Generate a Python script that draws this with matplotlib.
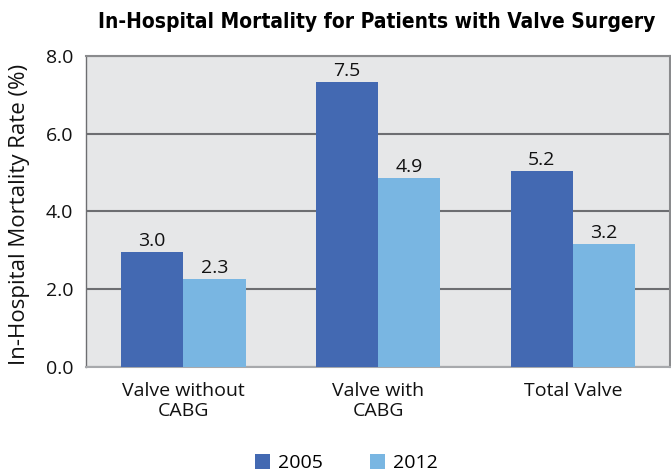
import matplotlib
matplotlib.use("Agg")
import matplotlib.pyplot as plt
from matplotlib import font_manager as fm
import numpy as np

categories = ["Valve without\nCABG", "Valve with\nCABG", "Total Valve"]
series_names = ["2005", "2012"]
values_2005 = [2.96, 7.33, 5.05]
values_2012 = [2.26, 4.87, 3.17]
labels_2005 = ["3.0", "7.5", "5.2"]
labels_2012 = ["2.3", "4.9", "3.2"]
yticks = [0.0, 2.0, 4.0, 6.0, 8.0]

c2005 = "#4369B2"
c2012 = "#79B6E2"

plt.rcParams['font.family'] = ['Open Sans', 'DejaVu Sans']

# pick a condensed bold font for the title if one is installed
title_fp = None
for fam in ['Liberation Sans Narrow', 'DejaVu Sans', 'Roboto', 'Open Sans', 'Noto Sans']:
    fp = fm.FontProperties(family=fam, weight='bold', stretch='condensed')
    try:
        path = fm.findfont(fp, fallback_to_default=False)
    except Exception:
        continue
    low = path.lower()
    if 'condensed' in low or 'narrow' in low or 'cond' in low:
        title_fp = fp
        break
if title_fp is None:
    title_fp = fm.FontProperties(family='Roboto', weight='bold')
    title_size = 14.0
else:
    title_size = 15.0
title_fp.set_size(title_size)

fig = plt.figure(figsize=(6.71, 4.74), dpi=100)
ax = fig.add_axes([0.128, 0.2257, 0.871, 0.6562])
ax.set_facecolor("#E6E7E8")

x = np.arange(len(categories))
w = 0.32
b1 = ax.bar(x - w/2, values_2005, w, color=c2005, label=series_names[0], zorder=3)
b2 = ax.bar(x + w/2, values_2012, w, color=c2012, label=series_names[1], zorder=3)

for rect, lab in zip(b1, labels_2005):
    ax.text(rect.get_x() + rect.get_width()/2, rect.get_height() + 0.05, lab,
            ha='center', va='bottom', fontsize=14, color='#111111')
for rect, lab in zip(b2, labels_2012):
    ax.text(rect.get_x() + rect.get_width()/2, rect.get_height() + 0.05, lab,
            ha='center', va='bottom', fontsize=14, color='#111111')

ax.set_xlim(-0.5, 2.5)
ax.set_ylim(0, 8)
ax.set_yticks(yticks)
ax.set_yticklabels([f"{v:.1f}" for v in yticks], fontsize=14)
ax.set_xticks(x)
ax.set_xticklabels(categories, fontsize=14, linespacing=1.1)
ax.tick_params(axis='both', length=0, colors='#111111')
ax.tick_params(axis='y', pad=9)
ax.tick_params(axis='x', pad=11)
ax.yaxis.grid(True, color="#6D6E71", linewidth=1.5, zorder=1)
ax.set_axisbelow(True)

for s in ['top', 'right']:
    ax.spines[s].set_color("#8A8B8D")
    ax.spines[s].set_linewidth(1.5)
ax.spines['bottom'].set_color("#A7A9AC")
ax.spines['bottom'].set_linewidth(1.5)
ax.spines['left'].set_color("#6D6E71")
ax.spines['left'].set_linewidth(1.0)

ax.set_ylabel("In-Hospital Mortality Rate (%)", fontsize=16, color='#111111')
ax.yaxis.set_label_coords(-0.096, 0.49)

fig.text(0.562, 0.953, "In-Hospital Mortality for Patients with Valve Surgery",
         ha='center', va='center', fontproperties=title_fp)

fig.legend(handles=[b1, b2], labels=series_names, loc='center', ncol=2,
           bbox_to_anchor=(0.516, 0.023), frameon=False, fontsize=14,
           handlelength=0.8, handleheight=0.8, handletextpad=0.4, columnspacing=2.4)

fig.savefig("out.png", dpi=100)
